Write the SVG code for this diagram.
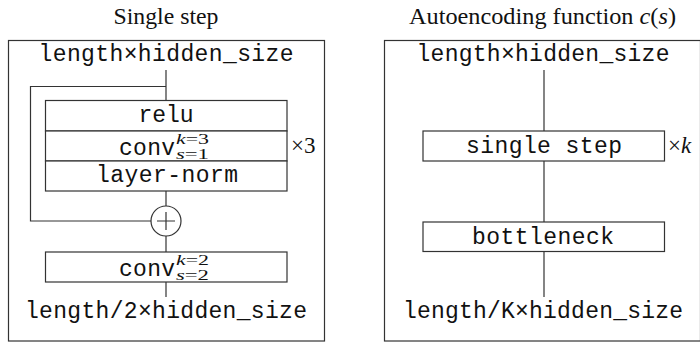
<svg xmlns="http://www.w3.org/2000/svg" width="700" height="343" viewBox="0 0 700 343">
<style>
.frame{fill:none;stroke:#333;stroke-width:1.2}
.box{fill:#fff;stroke:#333;stroke-width:1.2}
.ln{fill:none;stroke:#333;stroke-width:1.2}
.mono{font-family:"Liberation Mono","DejaVu Sans Mono",monospace;font-size:23px;fill:#111}
.ser{font-family:"Liberation Serif","Times New Roman",serif;font-size:23px;fill:#111}
.math{font-family:"Liberation Serif","Times New Roman",serif;font-style:italic;fill:#111}
.sup{font-family:"Liberation Serif","Times New Roman",serif;font-size:14px;fill:#111}
</style>
<rect width="700" height="343" fill="#fff"/>

<g id="panel-single-step">
  <text class="ser" x="166" y="24" text-anchor="middle" textLength="105" lengthAdjust="spacingAndGlyphs">Single step</text>
  <rect class="frame" x="8.5" y="40.5" width="316" height="300.5"/>
</g>
<g id="panel-autoencoding">
  <text class="ser" x="542.5" y="24" text-anchor="middle" textLength="267" lengthAdjust="spacingAndGlyphs">Autoencoding function <tspan class="math">c</tspan>(<tspan class="math">s</tspan>)</text>
  <rect class="frame" x="384.5" y="40.5" width="316" height="300.5"/>
</g>

<g id="connectors">
  <path class="ln" d="M166 70V100.5"/>
  <path class="ln" d="M166 86.5H30.5V221H151"/>
  <path class="ln" d="M166 191V206"/>
  <path class="ln" d="M166 236V252"/>
  <path class="ln" d="M166 282V297"/>
  <path class="ln" d="M544 70V131"/>
  <path class="ln" d="M544 161V222"/>
  <path class="ln" d="M544 251V297"/>
</g>

<g id="in-left"><text class="mono" x="166" y="61" text-anchor="middle" textLength="255" lengthAdjust="spacing">length×hidden_size</text></g>

<g id="relu">
  <rect class="box" x="45.5" y="100.5" width="241.5" height="30.5"/>
  <text class="mono" x="166" y="122" text-anchor="middle" textLength="55" lengthAdjust="spacing">relu</text>
</g>
<g id="conv-k3">
  <rect class="box" x="45.5" y="131" width="241.5" height="30"/>
  <text class="mono" x="119" y="155" textLength="56" lengthAdjust="spacing">conv</text>
  <text class="sup" x="176" y="143.5" textLength="33" lengthAdjust="spacingAndGlyphs"><tspan font-style="italic">k</tspan>=3</text>
  <text class="sup" x="176" y="159.2" textLength="33" lengthAdjust="spacingAndGlyphs"><tspan font-style="italic">s</tspan>=1</text>
</g>
<g id="layer-norm">
  <rect class="box" x="45.5" y="161" width="241.5" height="30"/>
  <text class="mono" x="167" y="182" text-anchor="middle" textLength="142" lengthAdjust="spacing">layer-norm</text>
</g>
<g id="times3"><text class="ser" x="291" y="153">×3</text></g>

<g id="add">
  <circle class="box" cx="166" cy="221" r="15"/>
  <path class="ln" d="M157 221H175M166 212V230"/>
</g>

<g id="conv-k2">
  <rect class="box" x="45.5" y="252" width="241.5" height="30"/>
  <text class="mono" x="119" y="276" textLength="56" lengthAdjust="spacing">conv</text>
  <text class="sup" x="176" y="264.5" textLength="33" lengthAdjust="spacingAndGlyphs"><tspan font-style="italic">k</tspan>=2</text>
  <text class="sup" x="176" y="280.2" textLength="33" lengthAdjust="spacingAndGlyphs"><tspan font-style="italic">s</tspan>=2</text>
</g>

<g id="out-left"><text class="mono" x="166" y="318" text-anchor="middle" textLength="282" lengthAdjust="spacing">length/2×hidden_size</text></g>

<g id="in-right"><text class="mono" x="543" y="61" text-anchor="middle" textLength="253" lengthAdjust="spacing">length×hidden_size</text></g>

<g id="single-step">
  <rect class="box" x="423" y="131" width="241.5" height="30"/>
  <text class="mono" x="544" y="152.5" text-anchor="middle" textLength="156" lengthAdjust="spacing">single step</text>
</g>
<g id="timesk"><text class="ser" x="668" y="153">×<tspan class="math">k</tspan></text></g>

<g id="bottleneck">
  <rect class="box" x="423" y="222" width="241.5" height="29.5"/>
  <text class="mono" x="543" y="243.5" text-anchor="middle" textLength="142" lengthAdjust="spacing">bottleneck</text>
</g>

<g id="out-right"><text class="mono" x="543" y="318" text-anchor="middle" textLength="280" lengthAdjust="spacing">length/K×hidden_size</text></g>
</svg>
